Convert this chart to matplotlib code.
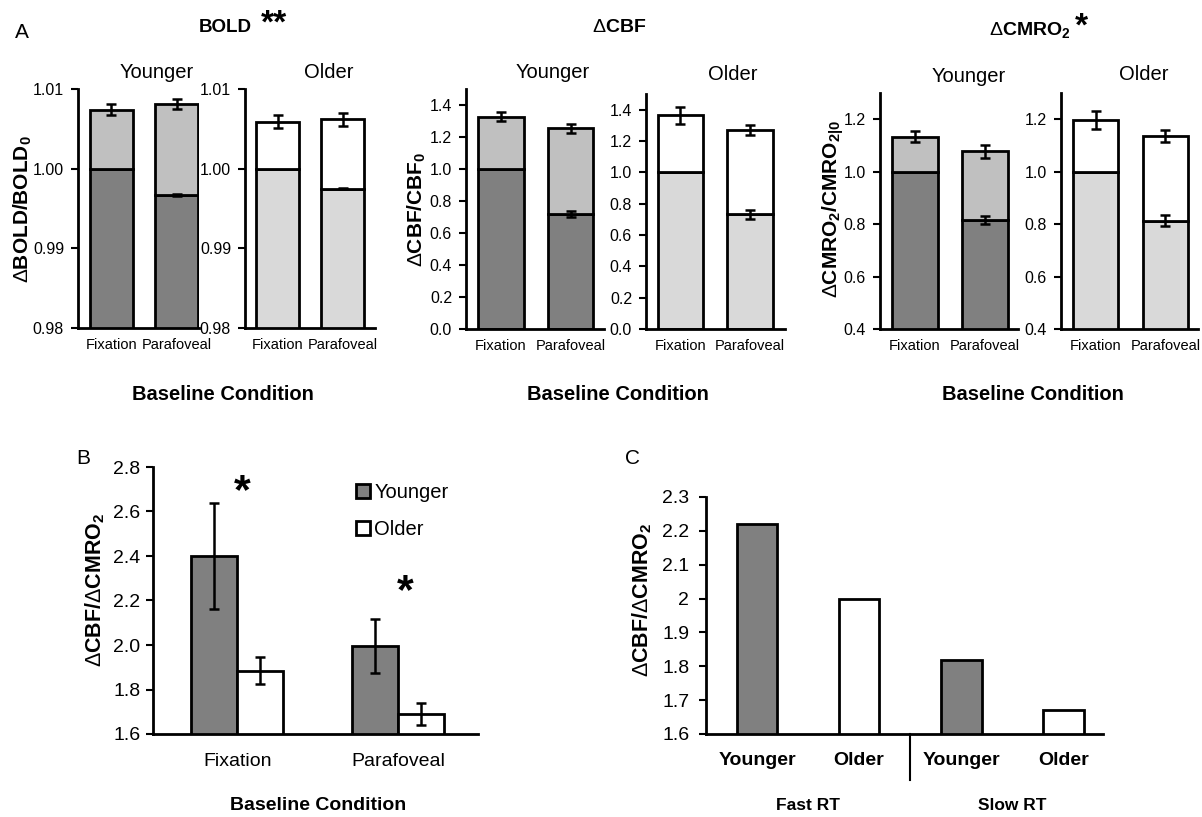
import matplotlib
matplotlib.use('Agg')
import matplotlib.pyplot as plt
import matplotlib.transforms as mtransforms
import numpy as np

plt.rcParams['font.family'] = ['Liberation Sans', 'DejaVu Sans']
plt.rcParams['mathtext.fontset'] = 'custom'
plt.rcParams['mathtext.rm'] = 'Liberation Sans'
plt.rcParams['mathtext.bf'] = 'Liberation Sans:bold'
plt.rcParams['mathtext.it'] = 'Liberation Sans:italic'

# ---- data ----
conditions = ['Fixation', 'Parafoveal']

# panel A: normalised baseline (lower segment) and task level (top of bar)
bold_young_base = [1.000, 0.9967]
bold_young_base_err = [0, 0.0001]
bold_young_top = [1.0074, 1.0081]
bold_young_top_err = [0.0007, 0.0006]
bold_old_base = [1.000, 0.9975]
bold_old_base_err = [0, 0.0001]
bold_old_top = [1.0059, 1.0062]
bold_old_top_err = [0.0008, 0.0008]

cbf_young_base = [1.0, 0.72]
cbf_young_base_err = [0, 0.02]
cbf_young_top = [1.327, 1.255]
cbf_young_top_err = [0.03, 0.028]
cbf_old_base = [1.0, 0.733]
cbf_old_base_err = [0, 0.028]
cbf_old_top = [1.364, 1.27]
cbf_old_top_err = [0.053, 0.032]

cmro2_young_base = [1.0, 0.815]
cmro2_young_base_err = [0, 0.016]
cmro2_young_top = [1.134, 1.077]
cmro2_young_top_err = [0.02, 0.024]
cmro2_old_base = [1.0, 0.813]
cmro2_old_base_err = [0, 0.022]
cmro2_old_top = [1.197, 1.135]
cmro2_old_top_err = [0.034, 0.022]

# panel B: coupling ratio
ratio_young = [2.40, 1.995]
ratio_young_err = [0.24, 0.12]
ratio_old = [1.885, 1.69]
ratio_old_err = [0.06, 0.05]
star_x = [0.03, 1.04]
star_y = [2.73, 2.28]

# panel C: coupling ratio by reaction time group
rt_ages = ['Younger', 'Older', 'Younger', 'Older']
rt_groups = ['Fast RT', 'Slow RT']
rt_values = [2.22, 2.00, 1.82, 1.67]

DARK = '#808080'
MID = '#c0c0c0'
LIGHT = '#d9d9d9'
LW = 2

W, H = 1202, 817
fig = plt.figure(figsize=(W / 100, H / 100), dpi=100)


def add_ax(l, t, r, b):
    return fig.add_axes([l / W, 1 - b / H, (r - l) / W, (b - t) / H])


def ftext(x, y, s, **kw):
    fig.text(x / W, 1 - y / H, s, **kw)


def style(ax, ysize, pad):
    for s in ['top', 'right']:
        ax.spines[s].set_visible(False)
    for s in ['left', 'bottom']:
        ax.spines[s].set_linewidth(LW)
    ax.tick_params(axis='y', direction='out', length=5, width=1.5,
                   pad=pad, labelsize=ysize)
    ax.tick_params(axis='x', length=0)


ekw = dict(fmt='none', ecolor='black', elinewidth=1.8, capsize=3.5, capthick=1.8)


def stacked(ax, base, base_err, top, top_err, c_base, c_top):
    x = np.arange(len(base))
    base = np.array(base)
    top = np.array(top)
    ax.bar(x, base, 0.65, color=c_base, edgecolor='black', linewidth=LW)
    ax.bar(x, top - base, 0.65, bottom=base, color=c_top,
           edgecolor='black', linewidth=LW)
    ax.errorbar(x, top, yerr=top_err, **ekw)
    keep = np.array(base_err) > 0
    ax.errorbar(x[keep], base[keep], yerr=np.array(base_err)[keep], **ekw)
    ax.set_xticks(x)
    ax.set_xticklabels(conditions, fontsize=10.5)
    ax.tick_params(axis='x', pad=7)


# ---- panel A ----
panels = [
    # rect, ylim, yticks, fmt, xlim, data, colours
    ((78, 89, 199, 328), (0.98, 1.01), [0.98, 0.99, 1.00, 1.01], '{:.2f}', (-0.515, 1.346),
     (bold_young_base, bold_young_base_err, bold_young_top, bold_young_top_err), (DARK, MID)),
    ((245, 89, 375, 328), (0.98, 1.01), [0.98, 0.99, 1.00, 1.01], '{:.2f}', (-0.5, 1.5),
     (bold_old_base, bold_old_base_err, bold_old_top, bold_old_top_err), (LIGHT, 'white')),
    ((466, 89, 604, 329), (0, 1.5), [0, 0.2, 0.4, 0.6, 0.8, 1.0, 1.2, 1.4], '{:.1f}', (-0.5, 1.48),
     (cbf_young_base, cbf_young_base_err, cbf_young_top, cbf_young_top_err), (DARK, MID)),
    ((646, 94, 785, 329), (0, 1.5), [0, 0.2, 0.4, 0.6, 0.8, 1.0, 1.2, 1.4], '{:.1f}', (-0.49, 1.5),
     (cbf_old_base, cbf_old_base_err, cbf_old_top, cbf_old_top_err), (LIGHT, 'white')),
    ((880, 93, 1018, 329), (0.4, 1.3), [0.4, 0.6, 0.8, 1.0, 1.2], '{:.1f}', (-0.5, 1.47),
     (cmro2_young_base, cmro2_young_base_err, cmro2_young_top, cmro2_young_top_err), (DARK, MID)),
    ((1061, 93, 1198, 329), (0.4, 1.3), [0.4, 0.6, 0.8, 1.0, 1.2], '{:.1f}', (-0.5, 1.47),
     (cmro2_old_base, cmro2_old_base_err, cmro2_old_top, cmro2_old_top_err), (LIGHT, 'white')),
]

for rect, ylim, yt, fmt, xlim, d, cols in panels:
    ax = add_ax(*rect)
    stacked(ax, *d, *cols)
    ax.set_ylim(*ylim)
    ax.set_xlim(*xlim)
    ax.set_yticks(yt)
    ax.set_yticklabels([fmt.format(v) for v in yt])
    style(ax, 11.5, 5)

# headings of panel A
ftext(22, 33, 'A', fontsize=15, ha='center', va='center')
ftext(225, 28, 'BOLD', fontsize=13.5, fontweight='bold', ha='center', va='center')
ftext(274, 24, '**', fontsize=24, fontweight='bold', ha='center', va='center')
ftext(619, 28, r'$\Delta\mathbf{CBF}$', fontsize=14, ha='center', va='center')
ftext(1030, 30, r'$\Delta\mathbf{CMRO_2}$', fontsize=14, ha='center', va='center')
ftext(1081, 27, '*', fontsize=24, fontweight='bold', ha='center', va='center')

for x, y, s in [(157, 72, 'Younger'), (329, 73, 'Older'),
                (553, 72, 'Younger'), (733, 75, 'Older'),
                (969, 77, 'Younger'), (1144, 74, 'Older')]:
    ftext(x, y, s, fontsize=14.5, ha='center', va='center')

for x, s in [(23, r'$\Delta\mathbf{BOLD/BOLD_0}$'),
             (417, r'$\Delta\mathbf{CBF/CBF_0}$'),
             (833, r'$\Delta\mathbf{CMRO_2/CMRO_{2|0}}$')]:
    ftext(x, 209, s, fontsize=15, rotation=90, ha='center', va='center')

for x in [223, 618, 1033]:
    ftext(x, 395, 'Baseline Condition', fontsize=14.5, fontweight='bold',
          ha='center', va='center')

# ---- panel B ----
axb = add_ax(153, 467, 478, 734)
xb = np.arange(len(conditions))
wb = 0.285
axb.bar(xb - wb / 2, ratio_young, wb, color=DARK, edgecolor='black',
        linewidth=LW, label='Younger')
axb.bar(xb + wb / 2, ratio_old, wb, color='white', edgecolor='black',
        linewidth=LW, label='Older')
axb.errorbar(xb - wb / 2, ratio_young, yerr=ratio_young_err, **ekw)
axb.errorbar(xb + wb / 2, ratio_old, yerr=ratio_old_err, **ekw)
axb.set_ylim(1.6, 2.8)
axb.set_xlim(-0.524, 1.495)
bt = np.round(np.arange(1.6, 2.81, 0.2), 1)
axb.set_yticks(bt)
axb.set_yticklabels(['{:.1f}'.format(v) for v in bt])
axb.set_xticks(xb)
axb.set_xticklabels(conditions, fontsize=14)
style(axb, 14, 4)
axb.tick_params(axis='x', pad=14)
for sx, sy in zip(star_x, star_y):
    axb.annotate('*', xy=(sx, sy), xytext=(0, -15), textcoords='offset points',
                 fontsize=31, fontweight='bold', ha='center', va='baseline')
axb.legend(loc='upper left', bbox_to_anchor=(0.6, 0.97), frameon=False,
           fontsize=14.5, handlelength=0.7, handleheight=0.7,
           handletextpad=0.2, labelspacing=0.9, borderaxespad=0)
ftext(83, 458, 'B', fontsize=15, ha='center', va='center')
ftext(95, 590, r'$\Delta\mathbf{CBF/}\Delta\mathbf{CMRO_2}$', fontsize=15.5,
      rotation=90, ha='center', va='center')
ftext(318, 805, 'Baseline Condition', fontsize=14, fontweight='bold',
      ha='center', va='center')

# ---- panel C ----
axc = add_ax(706, 497, 1103, 734)
xc = np.arange(len(rt_values))
cols_c = [DARK if a == 'Younger' else 'white' for a in rt_ages]
axc.bar(xc, rt_values, 0.4, color=cols_c, edgecolor='black', linewidth=LW)
axc.set_ylim(1.6, 2.3)
axc.set_xlim(-0.5, 3.39)
ct = np.round(np.arange(1.6, 2.31, 0.1), 1)
axc.set_yticks(ct)
axc.set_yticklabels(['{:g}'.format(v) for v in ct])
axc.set_xticks(xc)
axc.set_xticklabels(rt_ages, fontsize=14, fontweight='bold')
style(axc, 14, 7)
axc.tick_params(axis='x', pad=13)
blend = mtransforms.blended_transform_factory(axc.transData, axc.transAxes)
axc.plot([1.5, 1.5], [0, -0.195], transform=blend, color='black',
         linewidth=1.5, clip_on=False)
for i, g in enumerate(rt_groups):
    axc.text(2 * i + 0.5, -0.3, g, transform=blend, fontsize=12.5,
             fontweight='bold', ha='center', va='center')
ftext(633, 458, 'C', fontsize=15, ha='center', va='center')
ftext(642, 600, r'$\Delta\mathbf{CBF/}\Delta\mathbf{CMRO_2}$', fontsize=15.5,
      rotation=90, ha='center', va='center')

fig.savefig('out.png', dpi=100)
